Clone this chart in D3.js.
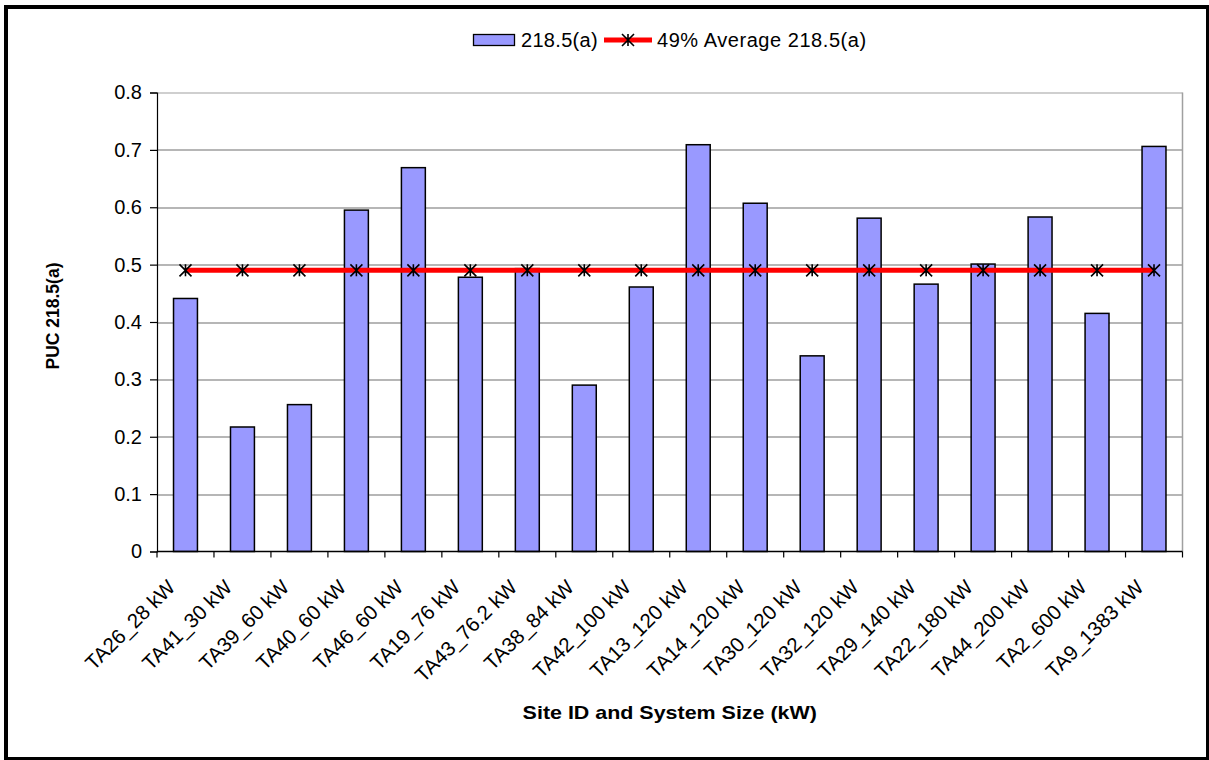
<!DOCTYPE html>
<html>
<head>
<meta charset="utf-8">
<script src="https://cdn.jsdelivr.net/npm/d3@7"></script>
<style>
  body { margin: 0; background: #fff; }
  text { font-family: "Liberation Sans", Arial, sans-serif; }
</style>
</head>
<body>
<div id="chart"></div>
<script>
const sites = ["TA26_28 kW", "TA41_30 kW", "TA39_60 kW", "TA40_60 kW", "TA46_60 kW", "TA19_76 kW",
  "TA43_76.2 kW", "TA38_84 kW", "TA42_100 kW", "TA13_120 kW", "TA14_120 kW", "TA30_120 kW",
  "TA32_120 kW", "TA29_140 kW", "TA22_180 kW", "TA44_200 kW", "TA2_600 kW", "TA9_1383 kW"];
const puc = [0.441, 0.217, 0.256, 0.595, 0.669, 0.478, 0.493, 0.29, 0.461, 0.709, 0.607, 0.341,
  0.581, 0.466, 0.501, 0.583, 0.415, 0.706];
const average = [0.49, 0.49, 0.49, 0.49, 0.49, 0.49, 0.49, 0.49, 0.49, 0.49, 0.49, 0.49,
  0.49, 0.49, 0.49, 0.49, 0.49, 0.49];
const yTicks = [0, 0.1, 0.2, 0.3, 0.4, 0.5, 0.6, 0.7, 0.8];
const seriesNames = ["218.5(a)", "49% Average 218.5(a)"];

const W = 1209, H = 760;
const margin = {top: 92.5, right: 26.5, bottom: 208.5, left: 157};
const width = W - margin.left - margin.right;
const height = H - margin.top - margin.bottom;

const root = d3.select("#chart").append("svg")
    .attr("width", W)
    .attr("height", H);

// outer frame
root.append("rect")
    .attr("x", 6).attr("y", 7)
    .attr("width", 1202).attr("height", 752)
    .attr("fill", "none").attr("stroke", "#000").attr("stroke-width", 4);

const svg = root.append("g")
    .attr("transform", `translate(${margin.left},${margin.top})`);

const x = d3.scaleBand()
    .range([0, width])
    .domain(sites)
    .paddingInner(0)
    .paddingOuter(0);

const y = d3.scaleLinear()
    .domain([0, 0.8])
    .range([height, 0]);

// gridlines
svg.append("g")
  .selectAll("line")
  .data(yTicks.filter(d => d > 0))
  .join("line")
    .attr("x1", 0).attr("x2", width)
    .attr("y1", d => Math.round(y(d)) + 0.5).attr("y2", d => Math.round(y(d)) + 0.5)
    .attr("stroke", d => d === 0.8 ? "#a0a0a0" : "#6e6e6e")
    .attr("stroke-width", 1.2);

// right border of plot area
svg.append("line")
    .attr("x1", width).attr("x2", width)
    .attr("y1", 0).attr("y2", height)
    .attr("stroke", "#a0a0a0").attr("stroke-width", 1.5);

// Bars
const bw = x.bandwidth() * 0.42;
svg.selectAll("rect.bar")
  .data(puc)
  .join("rect")
    .attr("class", "bar")
    .attr("x", (d, i) => x(sites[i]) + (x.bandwidth() - bw) / 2)
    .attr("y", d => y(d))
    .attr("width", bw)
    .attr("height", d => height - y(d))
    .attr("fill", "#9999ff")
    .attr("stroke", "#000")
    .attr("stroke-width", 1.5);

// Y axis
const yAxis = svg.append("g")
    .call(d3.axisLeft(y).tickValues(yTicks).tickSize(7).tickPadding(8)
      .tickFormat(d => d === 0 ? "0" : d3.format(".1f")(d)));
yAxis.select(".domain").attr("stroke", "#000").attr("stroke-width", 1.2);
yAxis.selectAll(".tick line").attr("stroke", "#000").attr("stroke-width", 1.2);
yAxis.selectAll("text").attr("font-size", 20).attr("fill", "#000")
    .attr("font-family", "Liberation Sans, Arial, sans-serif");

// X axis (ticks on band boundaries)
const xg = svg.append("g").attr("transform", `translate(0,${height})`);
xg.append("line")
    .attr("x1", 0).attr("x2", width).attr("y1", 0).attr("y2", 0)
    .attr("stroke", "#000").attr("stroke-width", 1.5);
xg.selectAll("line.tk")
  .data(sites.concat(["end"]))
  .join("line")
    .attr("class", "tk")
    .attr("x1", (d, i) => i < sites.length ? x(d) : width)
    .attr("x2", (d, i) => i < sites.length ? x(d) : width)
    .attr("y1", 0).attr("y2", 6)
    .attr("stroke", "#000").attr("stroke-width", 1.2);
xg.selectAll("text.lbl")
  .data(sites)
  .join("text")
    .attr("class", "lbl")
    .attr("transform", d => `translate(${x(d) + x.bandwidth() / 2 - 9},${37})rotate(-45)`)
    .attr("text-anchor", "end")
    .attr("font-size", 20.5)
    .attr("fill", "#000")
    .text(d => d);

// Average line
const line = d3.line()
    .x((d, i) => x(sites[i]) + x.bandwidth() / 2)
    .y(d => y(d));
svg.append("path")
    .datum(average)
    .attr("d", line)
    .attr("fill", "none")
    .attr("stroke", "#ff0000")
    .attr("stroke-width", 5);

function star(g, cx, cy) {
  const s = 6;
  g.append("path")
    .attr("d", `M${cx - s},${cy - s}L${cx + s},${cy + s}M${cx - s},${cy + s}L${cx + s},${cy - s}M${cx},${cy - s}L${cx},${cy + s}`)
    .attr("stroke", "#000").attr("stroke-width", 1.6).attr("fill", "none");
}
const marks = svg.append("g");
average.forEach((d, i) => star(marks, x(sites[i]) + x.bandwidth() / 2, y(d)));

// axis titles
root.append("text")
    .attr("transform", `translate(53,${margin.top + height / 2 - 6})rotate(-90)`)
    .attr("text-anchor", "middle")
    .attr("dominant-baseline", "central")
    .attr("font-size", 17.5)
    .attr("font-weight", "bold")
    .text("PUC 218.5(a)");

root.append("text")
    .attr("transform", `translate(${margin.left + width / 2},719)scale(1.16,1)`)
    .attr("text-anchor", "middle")
    .attr("font-size", 18.5)
    .attr("font-weight", "bold")
    .text("Site ID and System Size (kW)");

// legend
const lg = root.append("g");
lg.append("rect")
    .attr("x", 473.5).attr("y", 34.5).attr("width", 41).attr("height", 11)
    .attr("fill", "#9999ff").attr("stroke", "#000").attr("stroke-width", 1.3);
lg.append("text")
    .attr("x", 521).attr("y", 47)
    .attr("font-size", 20)
    .attr("letter-spacing", 0.3)
    .text(seriesNames[0]);
lg.append("line")
    .attr("x1", 604).attr("x2", 652).attr("y1", 40).attr("y2", 40)
    .attr("stroke", "#ff0000").attr("stroke-width", 5);
star(lg, 628, 40);
lg.append("text")
    .attr("x", 657).attr("y", 47)
    .attr("font-size", 20)
    .attr("letter-spacing", 0.55)
    .text(seriesNames[1]);
</script>
</body>
</html>
